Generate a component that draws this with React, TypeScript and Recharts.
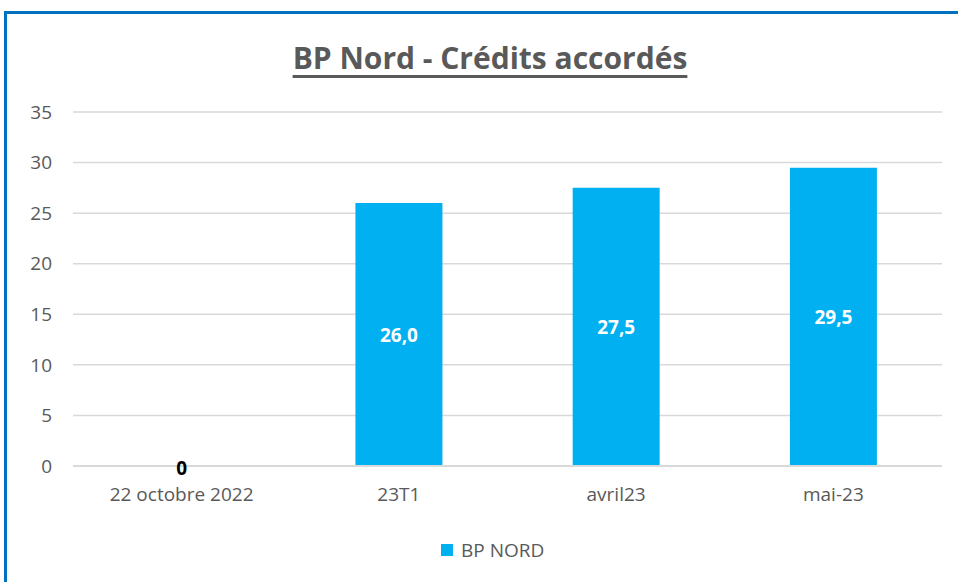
import React from "react";
import { ComposedChart, Bar, Line, XAxis, YAxis, CartesianGrid } from "recharts";

const categories = ["22 octobre 2022", "23T1", "avril23", "mai-23"];
const bpNord = [0, 26.0, 27.5, 29.5];
const yTicks = [0, 5, 10, 15, 20, 25, 30, 35];

const data = categories.map((c, i) => ({ name: c, bp: bpNord[i] }));

const FONT = "'Open Sans', Lato, sans-serif";
const GREY = "#595959";
const BAR = "#00B0F0";

// white labels centred inside the bars
const ValueLabel = (props: any) => {
  const { x, y, width, height, value } = props;
  if (!value) return null;
  return (
    <text
      x={x + width / 2}
      y={y + height / 2}
      textAnchor="middle"
      dominantBaseline="central"
      fill="#fff"
      fontSize={19}
      fontWeight={700}
      fontFamily={FONT}
    >
      {Number(value).toFixed(1).replace(".", ",")}
    </text>
  );
};

// zero-height bars get no label from Bar, so draw "0" off an invisible line
const ZeroLabel = (props: any) => {
  const { x, y, value } = props;
  if (value !== 0) return null;
  return (
    <text
      x={x}
      y={y + 2}
      textAnchor="middle"
      dominantBaseline="central"
      fill="#000"
      fontSize={19}
      fontWeight={700}
      fontFamily={FONT}
    >
      0
    </text>
  );
};

export default function App() {
  return (
    <div style={{ position: "absolute", left: 0, top: 0, width: 958, height: 582, background: "#fff", overflow: "hidden" }}>
      {/* frame */}
      <div style={{ position: "absolute", left: 4, top: 11, right: 0, height: 3, background: "#0070C0" }} />
      <div style={{ position: "absolute", left: 4, top: 11, bottom: 0, width: 3, background: "#0070C0" }} />

      <div
        style={{
          position: "absolute", top: 37, left: 0, width: 980, textAlign: "center",
          fontFamily: FONT, fontWeight: 700, fontSize: 30, color: GREY,
          textDecoration: "underline", textUnderlineOffset: 6,
        }}
      >
        BP Nord - Crédits accordés
      </div>

      <div style={{ position: "absolute", left: 0, top: 0 }}>
        <ComposedChart
          width={958}
          height={582}
          data={data}
          margin={{ top: 112, right: 16, bottom: 86, left: 0 }}
          barCategoryGap="30%"
        >
          <CartesianGrid vertical={false} stroke="#d9d9d9" strokeWidth={1.5} />
          <XAxis
            dataKey="name"
            height={30}
            axisLine={{ stroke: "#d9d9d9", strokeWidth: 2 }}
            tickLine={false}
            tickSize={0}
            tickMargin={22}
            tick={{ fill: GREY, fontSize: 19, fontFamily: FONT }}
            interval={0}
          />
          <YAxis
            width={73}
            domain={[0, 35]}
            ticks={yTicks}
            axisLine={false}
            tickLine={false}
            tickSize={0}
            tickMargin={21}
            tick={{ fill: GREY, fontSize: 19, fontFamily: FONT }}
          />
          <Bar dataKey="bp" fill={BAR} isAnimationActive={false} label={ValueLabel} />
          <Line
            dataKey="bp"
            stroke="none"
            dot={false}
            activeDot={false}
            legendType="none"
            isAnimationActive={false}
            label={ZeroLabel}
          />
        </ComposedChart>
      </div>

      {/* legend */}
      <div
        style={{
          position: "absolute", top: 537, left: 441, display: "flex", alignItems: "center",
          fontFamily: FONT, fontSize: 19, color: GREY,
        }}
      >
        <span style={{ width: 12, height: 12, background: BAR, marginRight: 8, display: "inline-block" }} />
        BP NORD
      </div>
    </div>
  );
}
